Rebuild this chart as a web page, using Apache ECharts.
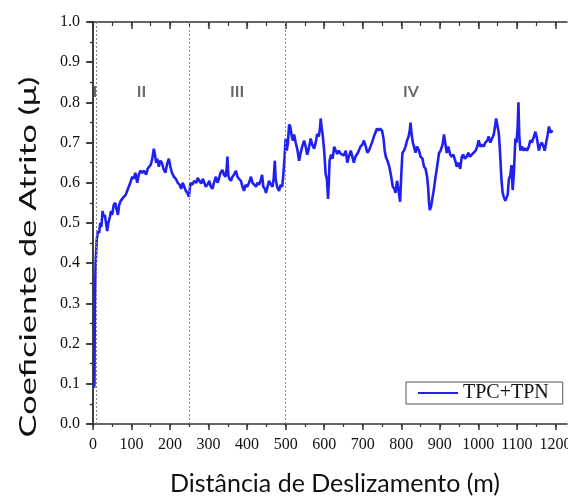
<!DOCTYPE html>
<html>
<head>
<meta charset="utf-8">
<script src="https://cdn.jsdelivr.net/npm/echarts@6/dist/echarts.min.js"></script>
<style>
  html, body { margin: 0; padding: 0; background: #fff; }
  #chart { width: 568px; height: 496px; }
</style>
</head>
<body>
<div id="chart"></div>
<script>
// distância de deslizamento (m) e coeficiente de atrito
const dist = [
  3, 4, 5, 7, 10, 13, 16, 19, 22, 25, 28, 31, 34, 37, 40, 44, 47, 50, 54, 58,
  61, 65, 68, 72, 76, 80, 85, 89, 93, 97, 102, 106, 110, 113, 115, 119, 123, 128, 133, 138,
  142, 146, 150, 154, 158, 161, 164, 167, 171, 175, 179, 183, 188, 192, 197, 201, 205, 210, 215, 220,
  225, 229, 233, 237, 241, 245, 249, 253, 258, 263, 268, 272, 276, 281, 285, 289, 293, 297, 302, 306,
  310, 314, 319, 323, 327, 331, 336, 340, 344, 347, 349, 351, 354, 358, 362, 366, 371, 375, 379, 384,
  388, 392, 396, 400, 405, 410, 414, 419, 423, 427, 431, 435, 439, 442, 446, 449, 453, 457, 462, 466,
  469, 472, 474, 478, 483, 487, 491, 494, 497, 500, 503, 506, 509, 512, 516, 519, 522, 526, 530, 535,
  539, 543, 548, 552, 556, 560, 565, 569, 574, 578, 582, 586, 589, 591, 593, 596, 600, 604, 607, 610,
  612, 614, 618, 622, 626, 630, 634, 638, 643, 647, 651, 656, 660, 664, 669, 673, 677, 681, 686, 690,
  694, 699, 703, 708, 712, 716, 720, 724, 729, 733, 737, 741, 745, 750, 754, 757, 760, 764, 769, 773,
  778, 782, 785, 789, 793, 797, 800, 803, 807, 811, 815, 819, 822, 824, 827, 830, 833, 837, 841, 846,
  850, 855, 859, 863, 867, 870, 872, 874, 877, 880, 884, 889, 893, 898, 902, 907, 911, 914, 918, 922,
  927, 931, 935, 940, 944, 948, 953, 957, 961, 965, 970, 974, 978, 983, 988, 993, 997, 1001, 1005, 1010,
  1014, 1018, 1023, 1027, 1031, 1036, 1040, 1044, 1046, 1049, 1053, 1056, 1060, 1063, 1066, 1070, 1073, 1076, 1079, 1083,
  1086, 1089, 1092, 1096, 1099, 1102, 1104, 1106, 1109, 1113, 1118, 1122, 1126, 1131, 1135, 1139, 1144, 1148, 1152, 1157,
  1161, 1165, 1169, 1172, 1176, 1180, 1183, 1187, 1191, 1193
]
const mu = [
  0.09, 0.10, 0.30, 0.40, 0.46, 0.48, 0.475, 0.50, 0.49, 0.53, 0.515, 0.52, 0.50, 0.48, 0.50, 0.515, 0.53, 0.52, 0.545, 0.55,
  0.535, 0.52, 0.545, 0.555, 0.56, 0.565, 0.57, 0.58, 0.59, 0.60, 0.615, 0.61, 0.625, 0.61, 0.60, 0.62, 0.63, 0.625, 0.63, 0.62,
  0.635, 0.632, 0.645, 0.66, 0.685, 0.67, 0.65, 0.66, 0.64, 0.655, 0.65, 0.635, 0.625, 0.645, 0.66, 0.64, 0.625, 0.615, 0.61, 0.60,
  0.595, 0.585, 0.60, 0.59, 0.58, 0.575, 0.565, 0.60, 0.595, 0.605, 0.60, 0.612, 0.605, 0.598, 0.61, 0.60, 0.59, 0.595, 0.605, 0.59,
  0.585, 0.60, 0.615, 0.60, 0.61, 0.625, 0.632, 0.62, 0.615, 0.635, 0.665, 0.62, 0.61, 0.605, 0.615, 0.62, 0.63, 0.615, 0.61, 0.605,
  0.59, 0.58, 0.595, 0.59, 0.60, 0.615, 0.60, 0.595, 0.59, 0.60, 0.595, 0.605, 0.62, 0.59, 0.585, 0.575, 0.59, 0.605, 0.595, 0.59,
  0.61, 0.655, 0.61, 0.59, 0.58, 0.595, 0.59, 0.62, 0.66, 0.71, 0.68, 0.70, 0.745, 0.74, 0.715, 0.705, 0.72, 0.70, 0.685, 0.655,
  0.675, 0.69, 0.705, 0.69, 0.67, 0.685, 0.71, 0.695, 0.685, 0.70, 0.722, 0.715, 0.735, 0.76, 0.74, 0.72, 0.68, 0.62, 0.61, 0.56,
  0.60, 0.655, 0.67, 0.66, 0.69, 0.68, 0.672, 0.68, 0.672, 0.675, 0.668, 0.68, 0.65, 0.665, 0.68, 0.665, 0.65, 0.665, 0.672, 0.68,
  0.69, 0.695, 0.705, 0.69, 0.675, 0.68, 0.69, 0.70, 0.715, 0.725, 0.735, 0.73, 0.735, 0.73, 0.71, 0.68, 0.665, 0.655, 0.64, 0.62,
  0.59, 0.585, 0.575, 0.605, 0.58, 0.553, 0.62, 0.674, 0.68, 0.69, 0.705, 0.715, 0.73, 0.75, 0.72, 0.70, 0.69, 0.675, 0.69, 0.68,
  0.665, 0.66, 0.64, 0.635, 0.615, 0.585, 0.55, 0.532, 0.54, 0.557, 0.58, 0.615, 0.64, 0.674, 0.68, 0.695, 0.72, 0.70, 0.674, 0.69,
  0.67, 0.665, 0.67, 0.655, 0.64, 0.65, 0.635, 0.665, 0.67, 0.66, 0.665, 0.675, 0.665, 0.665, 0.675, 0.68, 0.69, 0.706, 0.69, 0.695,
  0.69, 0.70, 0.705, 0.715, 0.70, 0.702, 0.72, 0.745, 0.76, 0.745, 0.724, 0.68, 0.607, 0.575, 0.565, 0.555, 0.553, 0.57, 0.607, 0.62,
  0.644, 0.582, 0.62, 0.71, 0.70, 0.74, 0.80, 0.72, 0.68, 0.69, 0.68, 0.686, 0.68, 0.69, 0.706, 0.70, 0.715, 0.727, 0.71, 0.68,
  0.695, 0.70, 0.69, 0.68, 0.70, 0.72, 0.74, 0.725, 0.724, 0.73
]

const xLabels = [0, 100, 200, 300, 400, 500, 600, 700, 800, 900, 1000, 1100, 1200]
const xMinor = [0, 50, 100, 150, 200, 250, 300, 350, 400, 450, 500, 550, 600, 650, 700, 750, 800, 850, 900, 950, 1000, 1050, 1100, 1150, 1200]
const stageLines = [8, 250, 500]
const stageNames = ['I', 'II', 'III', 'IV']
const stageX = [5, 126, 374, 825]
const stageY = [0.826, 0.826, 0.826, 0.826]

const serif = '"Liberation Serif", "DejaVu Serif", serif'
const sans = 'Lato, "Open Sans", sans-serif'
const axisColor = '#333'

const chart = echarts.init(document.getElementById('chart'))

const xCommon = { type: 'value', min: -5, max: 1230, splitLine: { show: false } }
const yCommon = { type: 'value', min: 0, max: 1, interval: 0.1, splitLine: { show: false } }

chart.setOption({
  animation: false,
  grid: { left: 91, right: 1, top: 22, bottom: 72, outerBoundsMode: 'none' },
  legend: {
    data: ['TPC+TPN'],
    left: 406,
    top: 382,
    itemWidth: 40,
    itemHeight: 2,
    itemGap: 6,
    padding: [1, 14, 1, 11],
    borderColor: '#555',
    borderWidth: 1,
    textStyle: { fontFamily: serif, fontSize: 20, color: '#111' }
  },
  xAxis: [
    Object.assign({}, xCommon, {
      position: 'bottom',
      name: 'Distância de Deslizamento (m)',
      nameLocation: 'middle',
      nameGap: 47,
      nameTextStyle: { fontFamily: sans, fontSize: 25, color: '#111', padding: [0, 0, 0, 12] },
      axisLine: { lineStyle: { color: axisColor, width: 1.5 } },
      axisTick: { inside: false, length: 6, customValues: xLabels, lineStyle: { color: axisColor, width: 1.5 } },
      axisLabel: { customValues: xLabels, margin: 13, fontFamily: serif, fontSize: 16, color: '#111', formatter: v => String(v) }
    }),
    Object.assign({}, xCommon, {
      position: 'bottom',
      axisLine: { show: false },
      axisTick: { inside: false, length: 3, customValues: xMinor, lineStyle: { color: axisColor, width: 1.2 } },
      axisLabel: { show: false }
    }),
    Object.assign({}, xCommon, {
      position: 'top',
      axisLine: { lineStyle: { color: axisColor, width: 1.5 } },
      axisTick: { inside: true, length: 7, customValues: xLabels, lineStyle: { color: axisColor, width: 1.5 } },
      axisLabel: { show: false }
    }),
    Object.assign({}, xCommon, {
      position: 'top',
      axisLine: { show: false },
      axisTick: { inside: true, length: 4, customValues: xMinor, lineStyle: { color: axisColor, width: 1.2 } },
      axisLabel: { show: false }
    })
  ],
  yAxis: [
    Object.assign({}, yCommon, {
      position: 'left',
      axisLine: { show: true, lineStyle: { color: axisColor, width: 1.5 } },
      axisTick: { show: true, inside: false, length: 7, lineStyle: { color: axisColor, width: 1.5 } },
      minorTick: { show: true, splitNumber: 2, length: 3, lineStyle: { color: axisColor, width: 1.2 } },
      axisLabel: { margin: 11, fontFamily: serif, fontSize: 16, color: '#111', formatter: v => v.toFixed(1) }
    }),
    Object.assign({}, yCommon, {
      position: 'right',
      axisLine: { show: true, lineStyle: { color: axisColor, width: 1.5 } },
      axisTick: { show: true, inside: true, length: 6, lineStyle: { color: axisColor, width: 1.5 } },
      minorTick: { show: true, splitNumber: 2, length: 3, lineStyle: { color: axisColor, width: 1.2 } },
      axisLabel: { show: false }
    })
  ],
  graphic: [
    {
      type: 'text',
      x: 28,
      y: 257,
      rotation: Math.PI / 2,
      scaleX: 1.43,
      style: {
        text: 'Coeficiente de Atrito (μ)',
        font: '24px ' + sans,
        fill: '#111',
        align: 'center',
        verticalAlign: 'middle'
      }
    }
  ],
  series: [
    {
      name: 'TPC+TPN',
      type: 'line',
      data: dist.map((d, i) => [d, mu[i]]),
      symbol: 'none',
      lineStyle: { color: '#2020f0', width: 2.6 },
      itemStyle: { color: '#2020f0' },
      markLine: {
        silent: true,
        symbol: 'none',
        label: { show: false },
        lineStyle: { color: '#888', type: [2, 2], width: 1 },
        data: stageLines.map(x => ({ xAxis: x }))
      }
    },
    {
      name: 'stages',
      type: 'scatter',
      data: stageX.map((x, i) => [x, stageY[i], stageNames[i]]),
      symbolSize: 0,
      silent: true,
      label: {
        show: true,
        position: 'inside',
        formatter: p => p.data[2],
        fontFamily: sans,
        fontSize: 16,
        fontWeight: 'bold',
        color: '#444'
      }
    }
  ]
})
</script>
</body>
</html>
